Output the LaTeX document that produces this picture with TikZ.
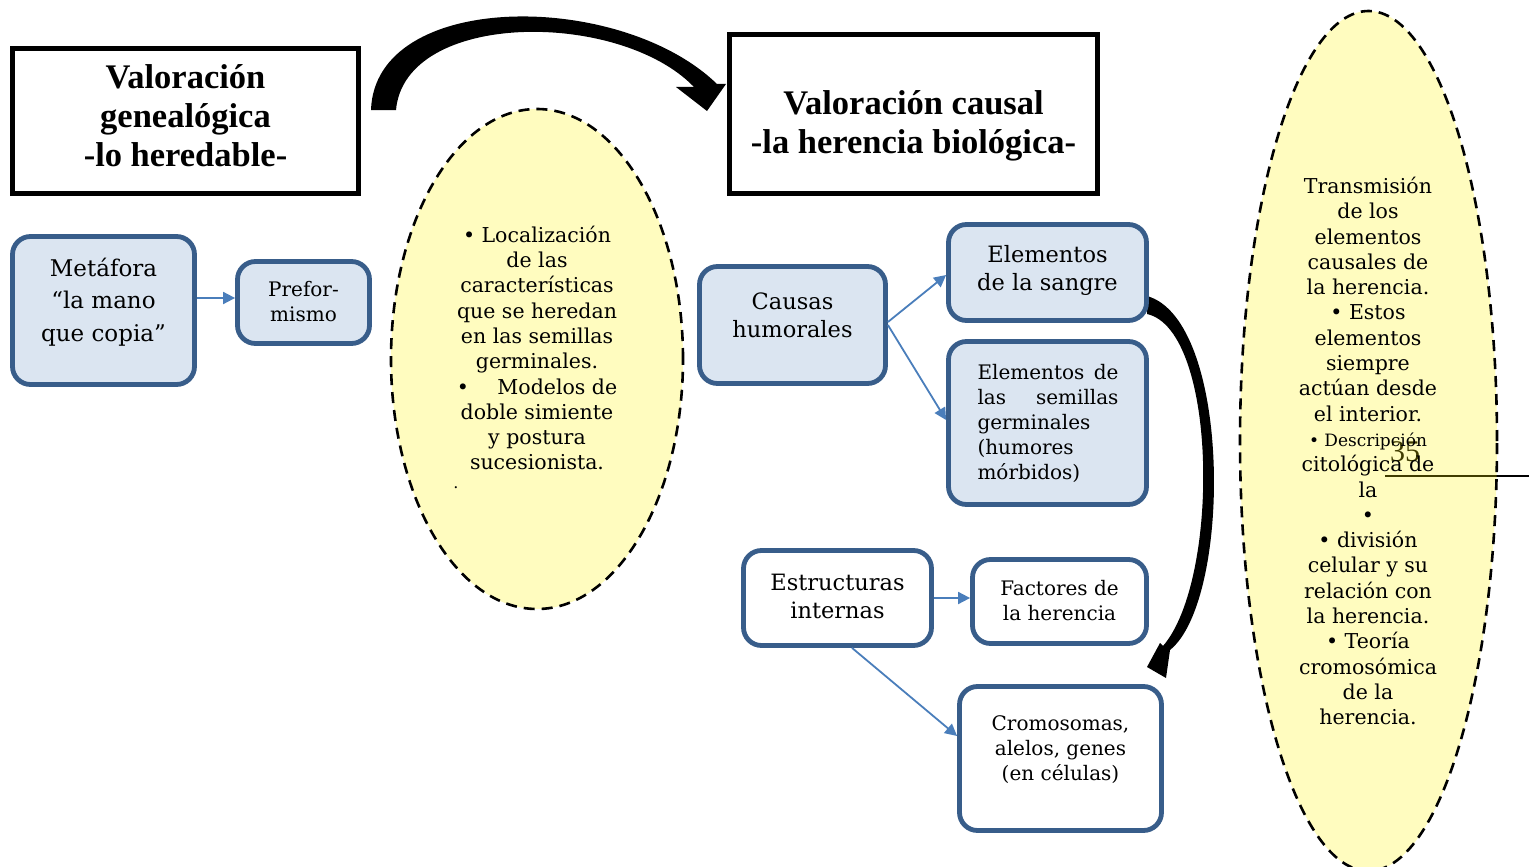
\documentclass[tikz,border=0pt]{standalone}
\usepackage{fontspec}
\setmainfont{DejaVu Serif}
\newfontfamily\headfont{Liberation Serif}
\usetikzlibrary{arrows.meta}
\definecolor{boxline}{RGB}{56,93,138}
\definecolor{boxfill}{RGB}{219,229,241}
\definecolor{linkblue}{RGB}{74,126,187}
\tikzset{
  headbox/.style={draw=black, line width=4.5pt, fill=white},
  headtext/.style={font=\headfont\bfseries\fontsize{34.5}{39}\selectfont, align=center},
  bluebox/.style={draw=boxline, line width=4.8pt, fill=boxfill, rounded corners=18pt},
  whitebox/.style={bluebox, fill=white},
  bigtext/.style={font=\fontsize{22.5}{28}\selectfont, align=center},
  smalltext/.style={font=\fontsize{20}{25}\selectfont, align=center},
  link/.style={draw=linkblue, line width=1.8pt, -{Triangle[length=12pt,width=12pt]}},
  note/.style={draw=black, line width=2.6pt, dash pattern=on 11pt off 7pt,
    fill=yellow, fill opacity=0.25},
  notetext/.style={font=\fontsize{20.5}{25.3}\selectfont, align=center},
}
\begin{document}
\begin{tikzpicture}[x=1pt, y=-1pt]
\useasboundingbox (0,0) rectangle (1529,867);

% page number and rule lying under the right-hand note
\node[font=\headfont\fontsize{30}{30}\selectfont] (pagenum) at (1405,452) {35};
\coordinate (ruleA) at (1385,476);
\coordinate (ruleB) at (1529,476);
\draw[line width=1.5pt] (ruleA) -- (ruleB);

% title boxes
\node[headbox, minimum width=346pt, minimum height=145pt, inner sep=0pt] (gen) at (185.5,121) {};
\node[headtext] at (185.5,116) {Valoración\\genealógica\\-lo heredable-};
\node[headbox, minimum width=368pt, minimum height=159pt, inner sep=0pt] (cau) at (913.5,114) {};
\node[headtext] at (913.5,125.5) {Valoración causal\\-la herencia biológica-};

% curved block arrow between the titles
\fill (371,110) -- (396,110) .. controls (405,10) and (620,10) .. (694,87)
  -- (676,87) -- (707,111) -- (726,84) -- (717,84)
  .. controls (620,-10) and (375,-10) .. (371,110) -- cycle;

% curved block arrow along the right column
\fill (1147,296) .. controls (1232,320) and (1232,600) .. (1170,650)
  -- (1166,678) -- (1147,667) -- (1160,643) -- (1163,646)
  .. controls (1220,580) and (1218,330) .. (1147,314) -- cycle;

% left column
\node[bluebox, minimum width=182pt, minimum height=148pt] (meta) at (103.5,310.5) {};
\node[font=\fontsize{23}{32.5}\selectfont, align=center] at (103.5,302) {Metáfora\\“la mano\\que copia”};
\node[bluebox, minimum width=132pt, minimum height=82pt] (pref) at (303.5,302.5) {};
\node[smalltext] at (303.5,302) {Prefor-\\mismo};

% middle note
\path[note] (537,359) ellipse [x radius=146pt, y radius=250pt];
\node[notetext] (midnote) at (537,348) {• Localización\\de las\\características\\que se heredan\\en las semillas\\germinales.\\•\hspace{22pt} Modelos de\\doble simiente\\y postura\\sucesionista.};
\node[font=\fontsize{16}{16}\selectfont] at (456,488) {.};

% causal column
\node[bluebox, minimum width=186pt, minimum height=117pt] (hum) at (792.5,325) {};
\node[bigtext] at (792.5,315) {Causas\\humorales};
\node[bluebox, minimum width=198pt, minimum height=96pt] (sang) at (1047.5,272.5) {};
\node[bigtext] at (1047.5,270) {Elementos\\de la sangre};
\node[bluebox, minimum width=198pt, minimum height=163pt] (semi) at (1047.5,423) {};
\node[font=\fontsize{20}{25}\selectfont, align=left, text width=141pt] at (1048,423)
  {Elementos\hfill de\\las\hfill semillas\\germinales\\(humores\\mórbidos)};

\node[whitebox, minimum width=188pt, minimum height=95pt] (estr) at (837.5,598) {};
\node[bigtext] at (837.5,596) {Estructuras\\internas};
\node[whitebox, minimum width=174pt, minimum height=84pt] (fact) at (1059.5,601.5) {};
\node[smalltext] at (1059.5,600.5) {Factores de\\la herencia};
\node[whitebox, minimum width=202pt, minimum height=144pt] (crom) at (1060.5,758.5) {};
\node[smalltext] at (1060.5,750) {Cromosomas,\\alelos, genes\\(en células)};

% connectors
\draw[link] ([yshift=12.5pt]meta.east) -- ([yshift=4.5pt]pref.west);
\draw[link] ([yshift=3pt]hum.east) -- ([yshift=-2.5pt]sang.west);
\draw[link] (hum.east) -- ([yshift=3pt]semi.west);
\draw[link] (estr.east) -- ([yshift=3.5pt]fact.west);
\draw[link] ([xshift=14.5pt]estr.south) -- ([yshift=22.5pt]crom.west);

% right note
\path[note] (1368.5,441) ellipse [x radius=128.5pt, y radius=430pt];
\node[notetext] (rightnote) at (1368,451) {Transmisión\\de los\\elementos\\causales de\\la herencia.\\• Estos\\elementos\\siempre\\actúan desde\\el interior.\\{\fontsize{17}{21}\selectfont • Descripción}\\citológica de\\la\\•\\• división\\celular y su\\relación con\\la herencia.\\• Teoría\\cromosómica\\de la\\herencia.};
\end{tikzpicture}
\end{document}
